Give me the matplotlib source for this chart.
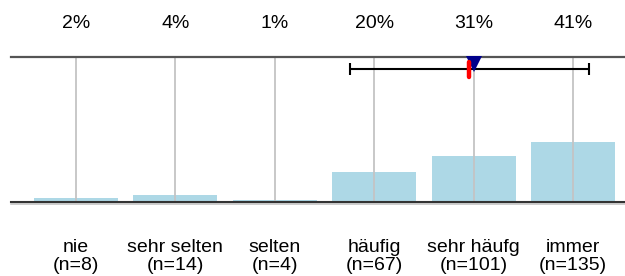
import matplotlib
matplotlib.use("Agg")
import matplotlib.pyplot as plt
import matplotlib.transforms as mtransforms

plt.rcParams['font.family'] = ['Liberation Sans', 'DejaVu Sans']

categories = ["nie", "sehr selten", "selten", "häufig", "sehr häufg", "immer"]
counts = [8, 14, 4, 67, 101, 135]
percents = [2, 4, 1, 20, 31, 41]
mean_value = 4.96
sd_value = 1.2
median_value = 5

fig = plt.figure(figsize=(6.25, 2.76), dpi=100)
ax = fig.add_axes([11 / 625, (276 - 201) / 276, 1 - 11 / 625, 144 / 276])

x = list(range(len(categories)))
ax.set_xlim(-0.654, 5.523)
ax.set_ylim(0, 100)

ax.bar(x, percents, width=0.845, color='#add8e6', zorder=2)

# vertical gridlines (drawn over the bars)
for xi in x:
    ax.axvline(xi, color='#c4c4c4', lw=1.3, zorder=3)

# top and bottom lines
ax.axhline(100, color='#555555', lw=1.6, zorder=4, clip_on=False)
ax.axhline(-1.9, color='#c0c0c0', lw=1.1, zorder=4, clip_on=False)
ax.axhline(-0.9, color='#333333', lw=1.5, zorder=4, clip_on=False)

# mean +/- sd
ax.errorbar([mean_value - 1], [91.7], xerr=[[sd_value], [sd_value]], fmt='none',
            ecolor='black', elinewidth=1.5, capsize=4, capthick=1.5, zorder=5)
# median triangle
ax.plot([median_value - 1], [95.2], marker='v', markersize=11.5, color='#00008b',
        markeredgewidth=0, linestyle='none', zorder=6, clip_on=False)
# mean tick
ax.plot([mean_value - 1 - 0.01, mean_value - 1 - 0.01], [96.5, 86.0], color='red', lw=3.2,
        solid_capstyle='round', zorder=7)

for s in ax.spines.values():
    s.set_visible(False)
ax.set_xticks([])
ax.set_yticks([])

trans = mtransforms.blended_transform_factory(ax.transData, fig.transFigure)
for xi, p in zip(x, percents):
    fig.text(xi, (276 - 28) / 276, f"{p}%", transform=trans, ha='center',
             va='baseline', fontsize=14)
for xi, c, n in zip(x, categories, counts):
    fig.text(xi, (276 - 252) / 276, c, transform=trans, ha='center',
             va='baseline', fontsize=14)
    fig.text(xi, (276 - 270) / 276, f"(n={n})", transform=trans, ha='center',
             va='baseline', fontsize=14)

fig.savefig("out.png", dpi=100)
